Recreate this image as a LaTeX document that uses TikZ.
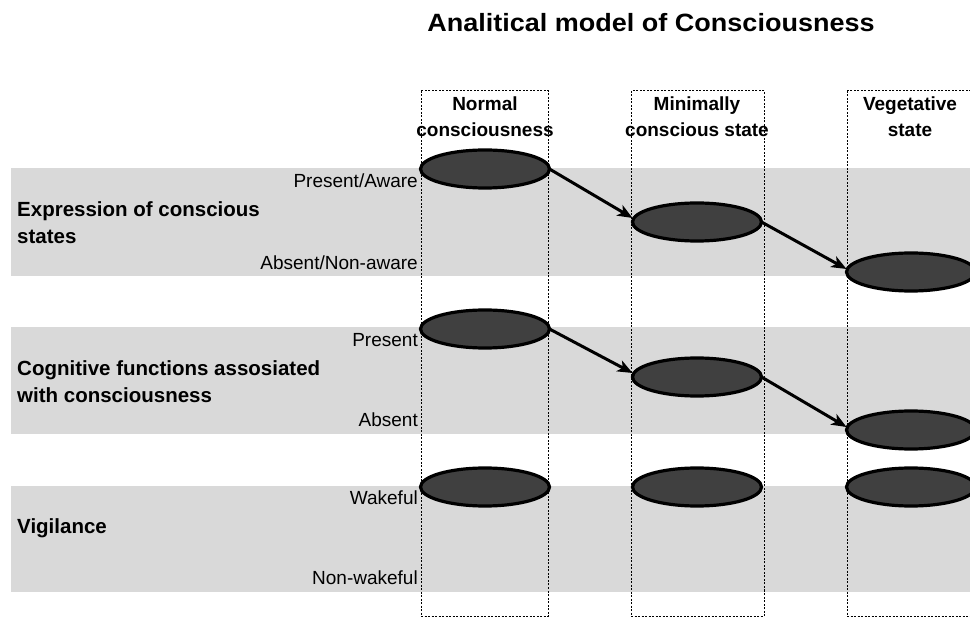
\documentclass[tikz,border=0pt]{standalone}
\usepackage{fontspec}
\setmainfont{Liberation Sans}
\newfontfamily\titlefont[FakeStretch=1.08]{Liberation Sans}
\usetikzlibrary{shapes.geometric,arrows.meta}
\definecolor{bandgray}{HTML}{D9D9D9}
\definecolor{ellfill}{HTML}{404040}
\begin{document}
\begin{tikzpicture}[x=1pt,y=-1pt,
  band/.style={fill=bandgray,draw=none},
  colbox/.style={draw=black,line width=1pt,dash pattern=on 2pt off 1.5pt},
  state/.style={ellipse,draw=black,line width=3.2pt,fill=ellfill,minimum width=129pt,minimum height=38pt,inner sep=0pt,outer sep=0pt},
  trans/.style={line width=3pt,-{Stealth[length=15pt,width=12pt,inset=4pt]}},
  lvl/.style={anchor=base east,font=\fontsize{19}{21}\selectfont,inner sep=0pt},
  rowlab/.style={anchor=base west,font=\bfseries\fontsize{20.5}{27}\selectfont,inner sep=0pt,align=left},
  head/.style={anchor=base,font=\bfseries\fontsize{19}{26}\selectfont,inner sep=0pt,align=center},
]
\useasboundingbox (0,0) rectangle (970,617);
\clip (0,0) rectangle (970,617);
% bands
\fill[band] (11,168) rectangle (970,276);
\fill[band] (11,327) rectangle (970,434);
\fill[band] (11,486) rectangle (970,592);
% column boxes
\draw[colbox] (421,91) rectangle (548,616);
\draw[colbox] (631,91) rectangle (764,616);
\draw[colbox] (847,91) rectangle (1000,616);
% title
\node[anchor=base,inner sep=0pt,font=\titlefont\bfseries\fontsize{25}{30}\selectfont] (title) at (651,32) {Analitical model of Consciousness};
% headers (base = last line)
\node[head] (hN) at (485,137) {Normal\\consciousness};
\node[head] (hM) at (697,137) {Minimally\\conscious state};
\node[head] (hV) at (910,137) {Vegetative\\state};
% row labels
\node[rowlab] (r1) at (17,244) {Expression of conscious\\states};
\node[rowlab] (r2) at (17,403) {Cognitive functions assosiated\\with consciousness};
\node[rowlab] (r3) at (17,533) {Vigilance};
% level labels
\node[lvl] (l1a) at (418,188) {Present/Aware};
\node[lvl] (l1b) at (418,270) {Absent/Non-aware};
\node[lvl] (l2a) at (418,347) {Present};
\node[lvl] (l2b) at (418,427) {Absent};
\node[lvl] (l3a) at (418,505) {Wakeful};
\node[lvl] (l3b) at (418,584) {Non-wakeful};
% states
\node[state] (n1) at (485,169) {};
\node[state] (m1) at (697,222) {};
\node[state] (v1) at (911,272) {};
\node[state] (n2) at (485,329) {};
\node[state] (m2) at (697,377) {};
\node[state] (v2) at (911,430) {};
\node[state] (n3) at (485,487) {};
\node[state] (m3) at (697,487) {};
\node[state] (v3) at (911,487) {};
% transitions
\draw[trans] (n1.east) -- ([yshift=4pt]m1.west);
\draw[trans] (m1.east) -- ([yshift=3pt]v1.west);
\draw[trans] (n2.east) -- ([yshift=4pt]m2.west);
\draw[trans] (m2.east) -- ([yshift=3pt]v2.west);
\end{tikzpicture}
\end{document}
